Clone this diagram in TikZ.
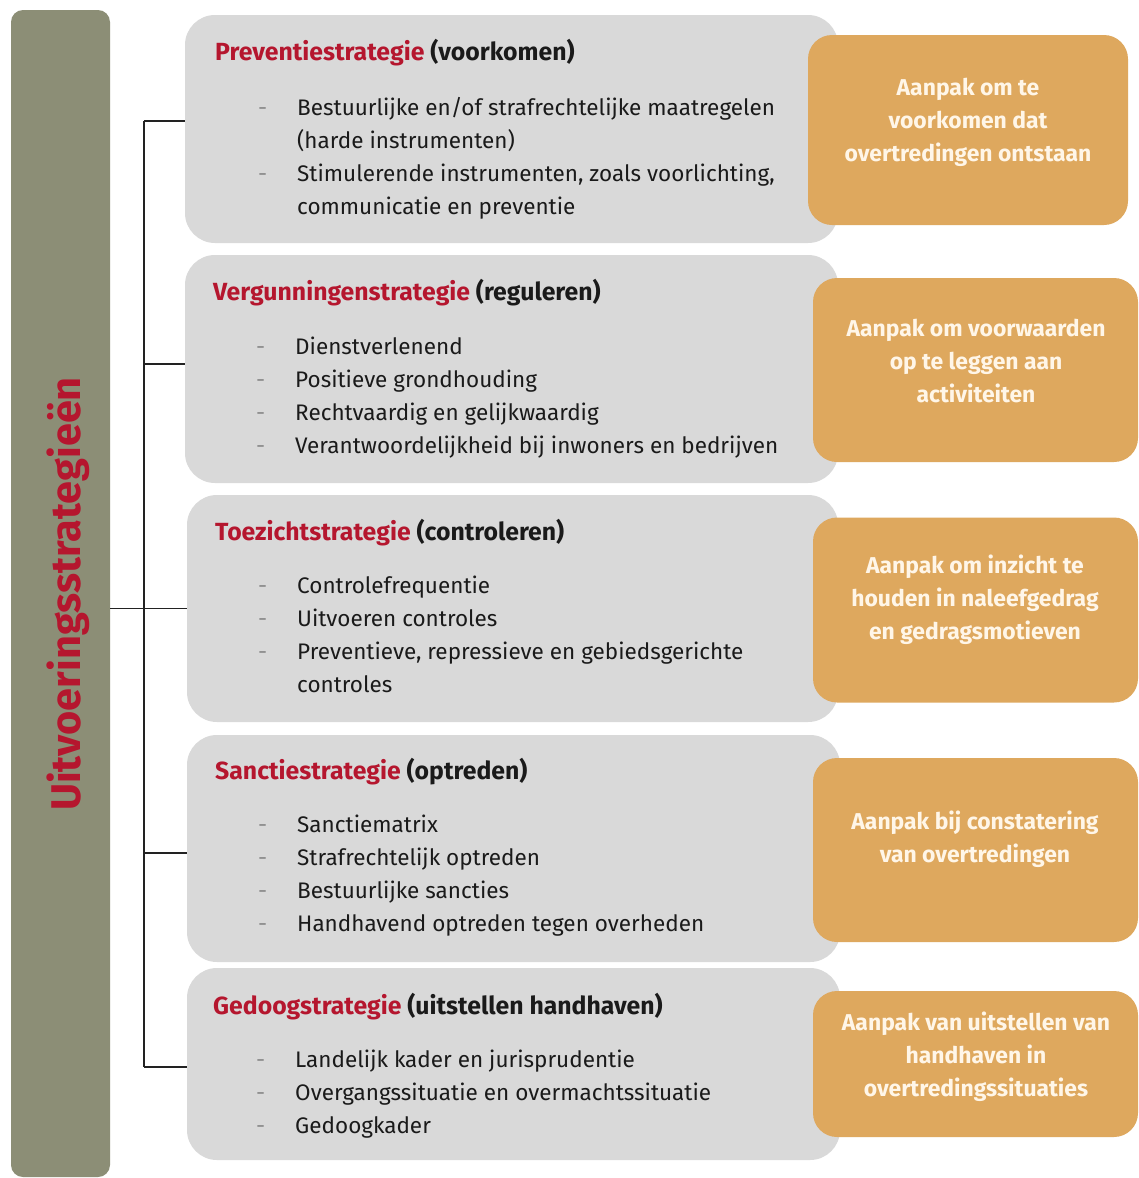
\documentclass[tikz,border=0pt]{standalone}
\usepackage{fontspec}
\setmainfont[Ligatures=CommonOff]{Fira Sans}
\definecolor{barc}{HTML}{8C8E76}
\definecolor{boxg}{HTML}{D9D9D9}
\definecolor{orng}{HTML}{DEA85E}
\definecolor{redt}{HTML}{B5162E}
\definecolor{txt}{HTML}{1A1A1A}
\definecolor{otxt}{HTML}{FFF6E8}
\definecolor{linec}{HTML}{222222}
\begin{document}
\begin{tikzpicture}[x=1pt,y=-1pt,
  graybox/.style={fill=boxg, rounded corners=30pt, draw=none, inner sep=0pt},
  orangebox/.style={fill=orng, rounded corners=24pt, draw=none, inner sep=0pt},
  head/.style={anchor=base west, inner sep=0pt, font=\fontsize{24.8}{28}\selectfont\bfseries, text=txt},
  item/.style={anchor=base west, inner sep=0pt, font=\fontsize{22.5}{26}\selectfont, text=txt},
  otext/.style={align=center, inner sep=0pt, text=otxt, font=\fontsize{22.9}{33}\selectfont\bfseries},
  link/.style={line width=1.8pt, draw=linec}
]
\newcommand{\dsh}{\makebox[39pt][l]{\textcolor{black!45}{-}}}
\useasboundingbox (0,0) rectangle (1139,1178);
\fill[white] (0,0) rectangle (1139,1178);

% left bar
\node[fill=barc, rounded corners=12pt, minimum width=99pt, minimum height=1167pt, inner sep=0pt] (bar) at (60.5,593.5) {};
\node[rotate=90, inner sep=0pt, text=redt, font=\fontsize{41.5}{44}\selectfont\bfseries] (bartext) at (68,594) {Uitvoeringsstrategieën};

% gray boxes
\node[graybox, minimum width=653pt, minimum height=228pt] (g1) at (511.5,129) {};
\node[graybox, minimum width=653pt, minimum height=228pt] (g2) at (511.5,369) {};
\node[graybox, minimum width=651pt, minimum height=227pt] (g3) at (512.5,608.5) {};
\node[graybox, minimum width=653pt, minimum height=227pt] (g4) at (513.5,848.5) {};
\node[graybox, minimum width=653pt, minimum height=192pt] (g5) at (513.5,1064) {};

% orange boxes
\node[orangebox, minimum width=320pt, minimum height=190pt] (o1) at (968,130) {};
\node[orangebox, minimum width=325pt, minimum height=184pt] (o2) at (975.5,370) {};
\node[orangebox, minimum width=325pt, minimum height=185pt] (o3) at (975.5,610) {};
\node[orangebox, minimum width=325pt, minimum height=184pt] (o4) at (975.5,850) {};
\node[orangebox, minimum width=325pt, minimum height=146pt] (o5) at (975.5,1064) {};

% orange texts
\node[otext] (ot1) at (968,122) {Aanpak om te\\voorkomen dat\\overtredingen ontstaan};
\node[otext] (ot2) at (976,361) {Aanpak om voorwaarden\\op te leggen aan\\activiteiten};
\node[otext] (ot3) at (975,600) {Aanpak om inzicht te\\houden in naleefgedrag\\en gedragsmotieven};
\node[otext] (ot4) at (975,839) {Aanpak bij constatering\\van overtredingen};
\node[otext] (ot5) at (976,1057) {Aanpak van uitstellen van\\handhaven in\\overtredingssituaties};

% box 1
\node[head] (h1) at (215,60) {\textcolor{redt}{Preventiestrategie} (voorkomen)};
\node[item] (i11) at (258,115) {\dsh Bestuurlijke en/of strafrechtelijke maatregelen};
\node[item] (i12) at (297,148) {(harde instrumenten)};
\node[item] (i13) at (258,181) {\dsh Stimulerende instrumenten, zoals voorlichting,};
\node[item] (i14) at (297,214) {communicatie en preventie};

% box 2
\node[head] (h2) at (213,300) {\textcolor{redt}{Vergunningenstrategie} (reguleren)};
\node[item] (i21) at (256,354) {\dsh Dienstverlenend};
\node[item] (i22) at (256,387) {\dsh Positieve grondhouding};
\node[item] (i23) at (256,420) {\dsh Rechtvaardig en gelijkwaardig};
\node[item] (i24) at (256,453) {\dsh Verantwoordelijkheid bij inwoners en bedrijven};

% box 3
\node[head] (h3) at (215,540) {\textcolor{redt}{Toezichtstrategie} (controleren)};
\node[item] (i31) at (258,593) {\dsh Controlefrequentie};
\node[item] (i32) at (258,626) {\dsh Uitvoeren controles};
\node[item] (i33) at (258,659) {\dsh Preventieve, repressieve en gebiedsgerichte};
\node[item] (i34) at (297,692) {controles};

% box 4
\node[head] (h4) at (215,779) {\textcolor{redt}{Sanctiestrategie} (optreden)};
\node[item] (i41) at (258,832) {\dsh Sanctiematrix};
\node[item] (i42) at (258,865) {\dsh Strafrechtelijk optreden};
\node[item] (i43) at (258,898) {\dsh Bestuurlijke sancties};
\node[item] (i44) at (258,931) {\dsh Handhavend optreden tegen overheden};

% box 5
\node[head] (h5) at (213,1014) {\textcolor{redt}{Gedoogstrategie} (uitstellen handhaven)};
\node[item] (i51) at (256,1067) {\dsh Landelijk kader en jurisprudentie};
\node[item] (i52) at (256,1100) {\dsh Overgangssituatie en overmachtssituatie};
\node[item] (i53) at (256,1133) {\dsh Gedoogkader};

% connectors
\coordinate (tk1) at (144,121);
\coordinate (tk5) at (144,1067);
\draw[link] (bar.east |- g3.west) -- (g3.west);
\draw[link] (tk1) -- (tk5);
\draw[link] (tk1) -- (g1.west |- tk1);
\draw[link] (144,364) -- (g2.west |- 0,364);
\draw[link] (144,853) -- (g4.west |- 0,853);
\draw[link] (tk5) -- (g5.west |- tk5);
\end{tikzpicture}
\end{document}
